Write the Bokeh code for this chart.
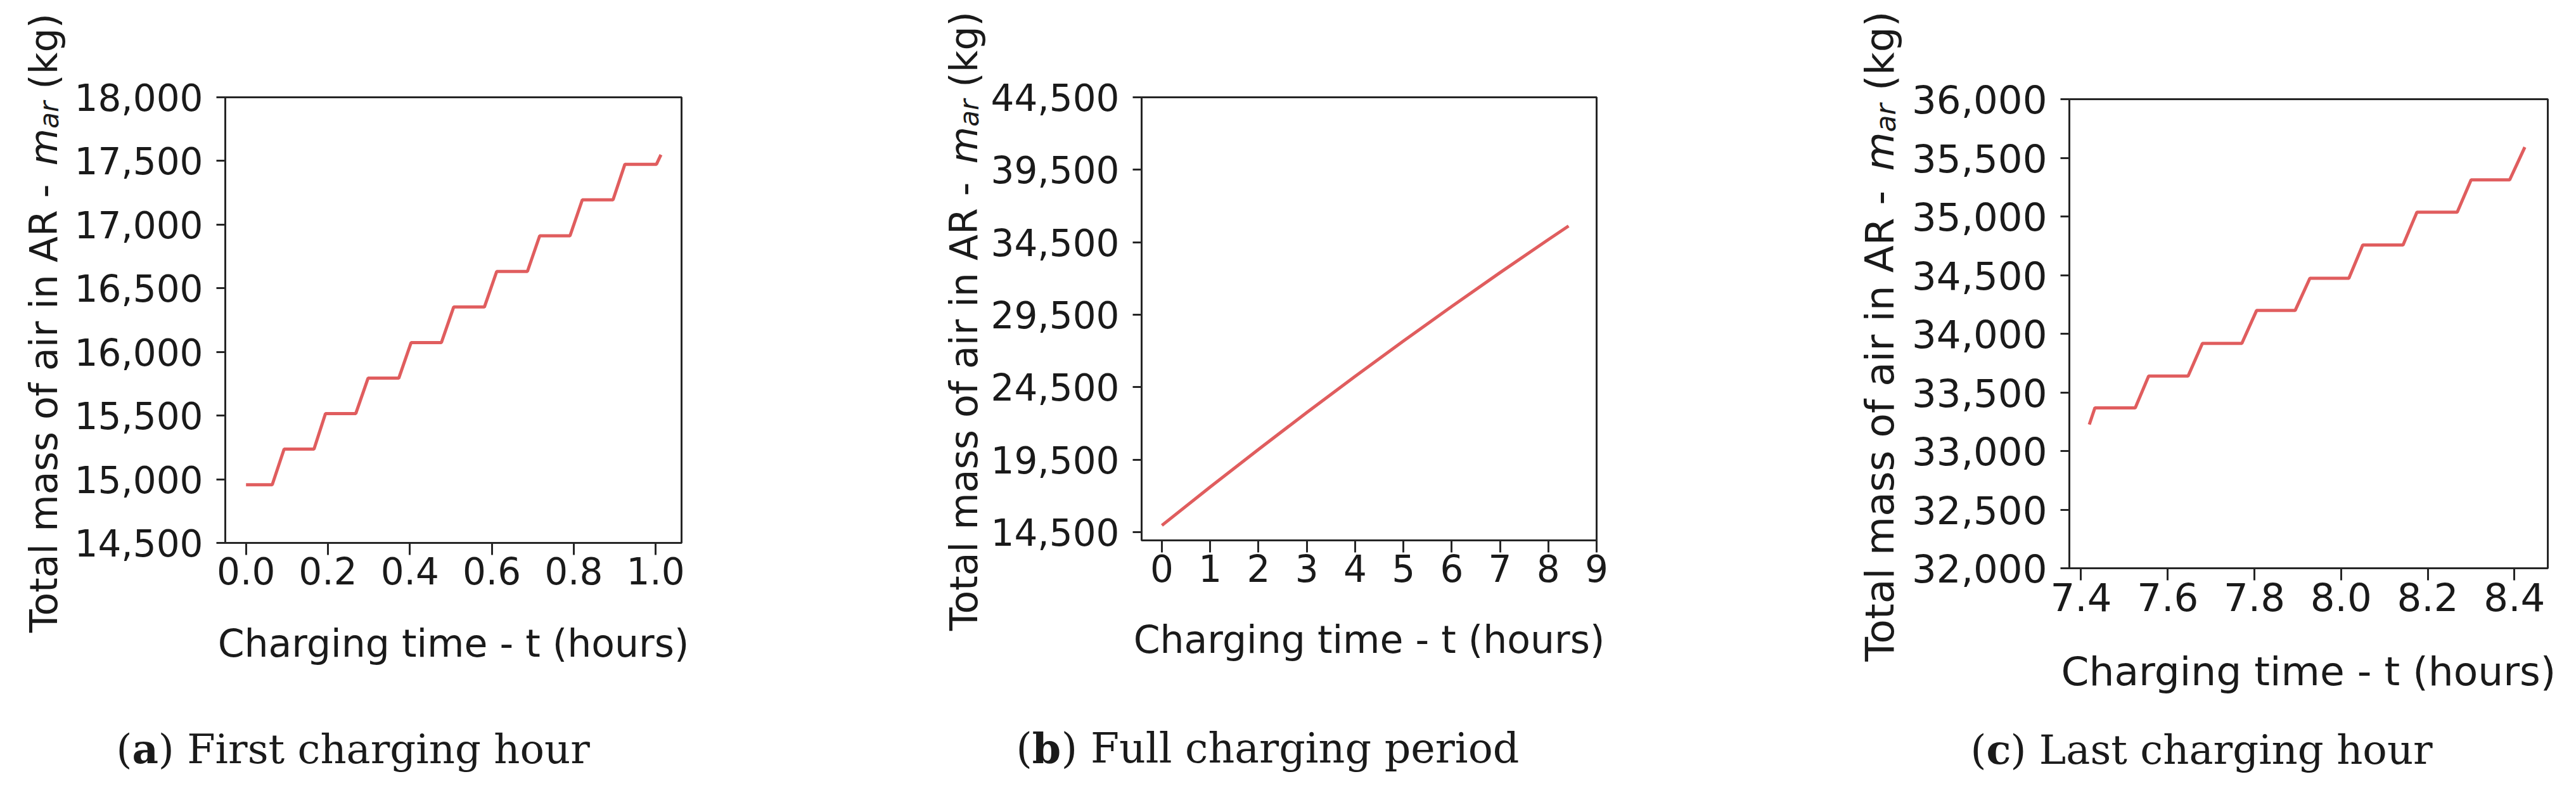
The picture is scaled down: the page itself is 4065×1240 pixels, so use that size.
import math
from bokeh.plotting import figure
from bokeh.models import Range1d, FixedTicker, NumeralTickFormatter, Label, BoxAnnotation
from bokeh.layouts import row
from bokeh.embed import file_html
from bokeh.resources import INLINE

# ---------------- data ----------------
# (a) first charging hour
a_time = [0.000, 0.064, 0.093, 0.166, 0.194, 0.268, 0.298, 0.373, 0.403, 0.477, 0.507,
          0.582, 0.612, 0.687, 0.717, 0.791, 0.821, 0.896, 0.925, 1.002, 1.013]
a_mass = [14957, 14957, 15237, 15237, 15516, 15516, 15794, 15794, 16073, 16073, 16353,
          16353, 16632, 16632, 16912, 16912, 17195, 17195, 17474, 17474, 17549]
a_xticks = [0.0, 0.2, 0.4, 0.6, 0.8, 1.0]
a_yticks = [14500, 15000, 15500, 16000, 16500, 17000, 17500, 18000]

# (b) full charging period
b_time = [0, 1, 2, 3, 4, 5, 6, 7, 8, 8.42]
b_mass = [14957, 17610, 20205, 22750, 25240, 27680, 30065, 32400, 34680, 35620]
b_xticks = [0, 1, 2, 3, 4, 5, 6, 7, 8, 9]
b_yticks = [14500, 19500, 24500, 29500, 34500, 39500, 44500]

# (c) last charging hour
c_time = [7.419, 7.432, 7.525, 7.556, 7.647, 7.680, 7.771, 7.805, 7.894, 7.928, 8.018,
          8.050, 8.143, 8.175, 8.268, 8.300, 8.389, 8.424]
c_mass = [33226, 33368, 33368, 33639, 33639, 33918, 33918, 34198, 34198, 34473, 34473,
          34757, 34757, 35037, 35037, 35312, 35312, 35591]
c_xticks = [7.4, 7.6, 7.8, 8.0, 8.2, 8.4]
c_yticks = [32000, 32500, 33000, 33500, 34000, 34500, 35000, 35500, 36000]

x_label = "Charging time - t (hours)"
y_label_main = "Total mass of air in AR -"
y_label_var = "m"
y_label_sub = "ar"
y_label_unit = "(kg)"
captions = [("a", ") First charging hour"), ("b", ") Full charging period"), ("c", ") Last charging hour")]

# ---------------- style / layout ----------------
SANS = "DejaVu Sans"
SERIF = "DejaVu Serif"
TXT = "#1a1a1a"
AXC = "#262626"
LINE = "#d62728"
PAGE_TOP = 8
FIG_H = 1224

panels = [
    dict(fig=(8, 1440), frame=(363, 1083, 161, 864), xr=(-0.0506, 1.0633), yr=(14500, 18000),
         t=a_time, m=a_mass, xt=a_xticks, yt=a_yticks, xfmt="0.0", fs=60, tfs=58,
         ylab_x=76, ylab_cy=517, xlab_y=1022, cap_left=191, cap_y=1189, cap_fs=64, cap=captions[0]),
    dict(fig=(1440, 2900), frame=(1809, 2527, 161, 860), xr=(-0.42, 9.0), yr=(13925, 44500),
         t=b_time, m=b_mass, xt=b_xticks, yt=b_yticks, xfmt="0", fs=60, tfs=58,
         ylab_x=1528, ylab_cy=514, xlab_y=1016, cap_left=1611, cap_y=1188, cap_fs=65, cap=captions[1]),
    dict(fig=(2900, 4055), frame=(3273, 4028, 164, 904), xr=(7.373, 8.477), yr=(32000, 36000),
         t=c_time, m=c_mass, xt=c_xticks, yt=c_yticks, xfmt="0.0", fs=63, tfs=61,
         ylab_x=2974, ylab_cy=538, xlab_y=1067, cap_left=3117, cap_y=1190, cap_fs=64, cap=captions[2]),
]

# em widths (DejaVu Sans) used to lay out the composite y label
EM_MAIN = 11.961
EM_SP = 0.318
EM_M = 0.974
SUB_SCALE = 0.7
EM_SUB = 1.024 * SUB_SCALE
EM_UNIT = 1.994
SUB_SHIFT = 0.15


def to_data(s, px, py):
    fl, fr, ft, fb = s["frame"]
    x0, x1 = s["xr"]
    y0, y1 = s["yr"]
    return (x0 + (px - fl) * (x1 - x0) / (fr - fl),
            y0 + (fb - py) * (y1 - y0) / (fb - ft))


def add_label(p, s, px, py, text, size, font=SANS, align="left", angle=0.0, style="normal"):
    x, y = to_data(s, px, py)
    p.add_layout(Label(x=x, y=y, x_units="data", y_units="data", text=text,
                       text_font=font, text_font_size=f"{size}px", text_font_style=style,
                       text_color=TXT, text_align=align, text_baseline="alphabetic",
                       angle=angle, angle_units="rad"))


def make_panel(s):
    gl, gr = s["fig"]
    fl, fr, ft, fb = s["frame"]
    x0, x1 = s["xr"]
    y0, y1 = s["yr"]
    FS = s["fs"]
    # the figure frame covers the whole canvas; the plot box is a sub-region of it
    X0, Y0 = to_data(s, gl, PAGE_TOP + FIG_H)
    X1, Y1 = to_data(s, gr, PAGE_TOP)
    p = figure(width=gr - gl, height=FIG_H, output_backend="svg", toolbar_location=None,
               x_range=Range1d(X0, X1), y_range=Range1d(Y0, Y1),
               min_border=0, min_border_left=0, min_border_right=0,
               min_border_top=0, min_border_bottom=0, title_location=None)
    p.grid.visible = False
    p.background_fill_color = "white"
    p.border_fill_color = "white"
    p.outline_line_color = None

    p.line(s["t"], s["m"], line_color=LINE, line_width=5, line_alpha=0.75)

    p.add_layout(BoxAnnotation(left=x0, right=x1, bottom=y0, top=y1, fill_alpha=0,
                               line_color=AXC, line_width=3, line_alpha=1.0))

    p.xaxis.fixed_location = y0
    p.yaxis.fixed_location = x0
    for ax, tick_len, ticks, fmt, standoff in ((p.xaxis, 19, s["xt"], s["xfmt"], 3),
                                              (p.yaxis, 14, s["yt"], "0,0", 21)):
        ax.ticker = FixedTicker(ticks=ticks)
        ax.formatter = NumeralTickFormatter(format=fmt)
        ax.axis_line_color = None
        ax.major_tick_in = 0
        ax.major_tick_out = tick_len
        ax.minor_tick_in = 0
        ax.minor_tick_out = 0
        ax.major_tick_line_color = AXC
        ax.major_tick_line_width = 3
        ax.major_label_text_font = SANS
        ax.major_label_text_font_size = f"{s['tfs']}px"
        ax.major_label_text_color = TXT
        ax.major_label_standoff = standoff

    # x label
    add_label(p, s, (fl + fr) / 2, s["xlab_y"], x_label, FS, align="center")

    # composite rotated y label
    total = (EM_MAIN + EM_SP + EM_M + EM_SUB + EM_SP + EM_UNIT) * FS
    ystart = s["ylab_cy"] + total / 2
    bx = s["ylab_x"]
    ang = math.pi / 2
    add_label(p, s, bx, ystart, y_label_main, FS, angle=ang)
    ym = ystart - (EM_MAIN + EM_SP) * FS
    add_label(p, s, bx, ym, y_label_var, FS, angle=ang, style="italic")
    ys = ym - EM_M * FS
    add_label(p, s, bx + SUB_SHIFT * FS, ys, y_label_sub, round(FS * SUB_SCALE), angle=ang, style="italic")
    yk = ys - (EM_SUB + EM_SP) * FS
    add_label(p, s, bx, yk, y_label_unit, FS, angle=ang)

    # caption "(x) text" with bold letter
    letter, rest = s["cap"]
    cfs = s["cap_fs"]
    cl = s["cap_left"]
    cyb = s["cap_y"]
    add_label(p, s, cl, cyb, "(", cfs, font=SERIF)
    lx = cl + 0.39 * cfs
    add_label(p, s, lx, cyb, letter, cfs, font=SERIF, style="bold")
    bold_w = {"a": 0.647, "b": 0.708, "c": 0.594}[letter]
    add_label(p, s, lx + bold_w * cfs, cyb, rest, cfs, font=SERIF)
    return p


figs = [make_panel(s) for s in panels]
layout = row(*figs)
open("out.html", "w").write(file_html(layout, INLINE))
